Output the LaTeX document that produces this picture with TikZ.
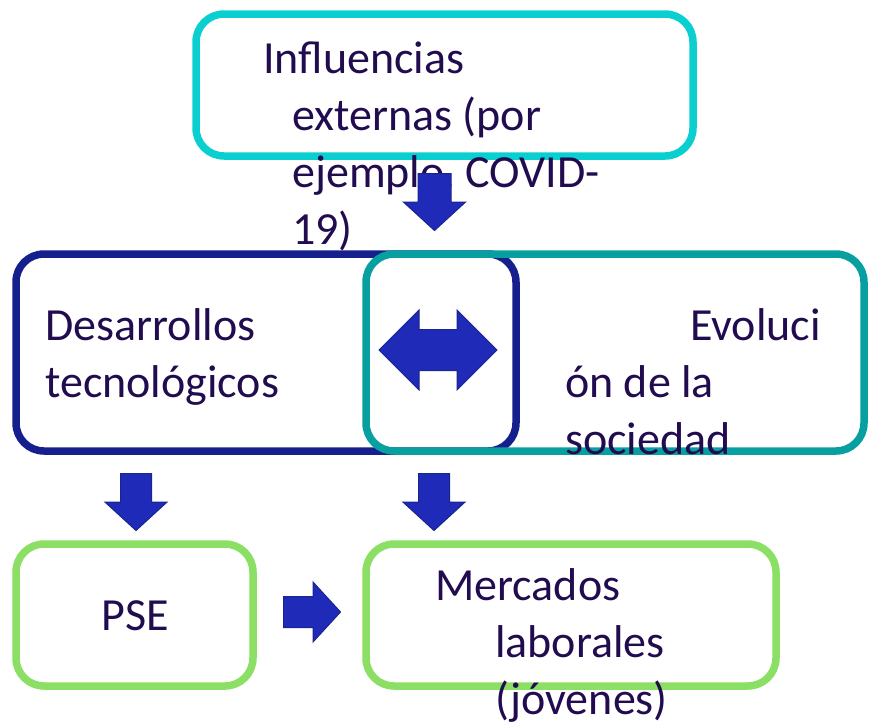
\documentclass[tikz,border=0pt]{standalone}
\usepackage{fontspec}
\setmainfont{Carlito}
\usepackage{tikz}
\usetikzlibrary{shapes.arrows}
\definecolor{boxcyan}{HTML}{0ACFD0}
\definecolor{boxnavy}{HTML}{15208C}
\definecolor{boxteal}{HTML}{079F9F}
\definecolor{boxgreen}{HTML}{8BDF64}
\definecolor{arrowblue}{HTML}{1F2BB8}
\definecolor{arrowedge}{HTML}{1A248F}
\definecolor{txt}{HTML}{220C50}

\begin{document}
\begin{tikzpicture}[x=1pt,y=-1pt]
  \tikzstyle{box}=[rectangle,rounded corners=28pt,line width=7.5pt,inner sep=0pt]
  \tikzstyle{label}=[inner sep=0pt,anchor=base west,align=left,text=txt,
                     font=\fontsize{46}{57}\selectfont]
  \tikzstyle{blockarrow}=[single arrow,draw=arrowedge,fill=arrowblue,line width=1pt,
                    inner xsep=0pt,inner ysep=16pt,minimum height=57pt,anchor=tail,
                    single arrow head extend=14.5pt,single arrow tip angle=95]

  \useasboundingbox (0,0) rectangle (871,721);

  % boxes
  \node[box,draw=boxcyan,minimum width=497pt,minimum height=142pt] (infl) at (444.5,85) {};
  \node[box,draw=boxnavy,minimum width=500pt,minimum height=197pt] (tech) at (266,352.5) {};
  \node[box,draw=boxteal,minimum width=498pt,minimum height=197pt] (soc) at (615,352.5) {};
  \node[box,draw=boxgreen,minimum width=237pt,minimum height=142pt] (pse) at (134.5,615) {};
  \node[box,draw=boxgreen,minimum width=410pt,minimum height=142pt] (merc) at (571,615) {};

  % texts (base = last line)
  \node[label] (infltext) at (263,244)
    {Influencias\\\hspace*{29pt}externas (por\\\hspace*{29pt}ejemplo, COVID-\\\hspace*{29pt}19)};
  \node[label] (techtext) at (45,397) {Desarrollos\\tecnológicos};
  \node[label] (soctext) at (565,454) {\hspace*{125pt}Evoluci\\ón de la\\sociedad};
  \node[label,anchor=base] (psetext) at (135,630) {PSE};
  \node[label] (merctext) at (435,714)
    {Mercados\\\hspace*{60pt}laborales\\\hspace*{60pt}(jóvenes)};

  % block arrows
  \node[blockarrow,rotate=-90] (a1) at (434.5,173) {};
  \node[blockarrow,rotate=-90,inner ysep=15pt,single arrow head extend=15.5pt] (a2) at (136,473) {};
  \node[blockarrow,rotate=-90,inner ysep=15pt,single arrow head extend=15.5pt] (a3) at (434,473) {};
  \node[blockarrow,inner ysep=15pt] (a4) at (283,612) {};
  \node[double arrow,draw=arrowedge,fill=arrowblue,line width=1pt,inner xsep=0pt,
        inner ysep=20pt,minimum height=118pt,double arrow head extend=19.5pt,
        double arrow tip angle=90] (both) at (438,350) {};
\end{tikzpicture}
\end{document}
